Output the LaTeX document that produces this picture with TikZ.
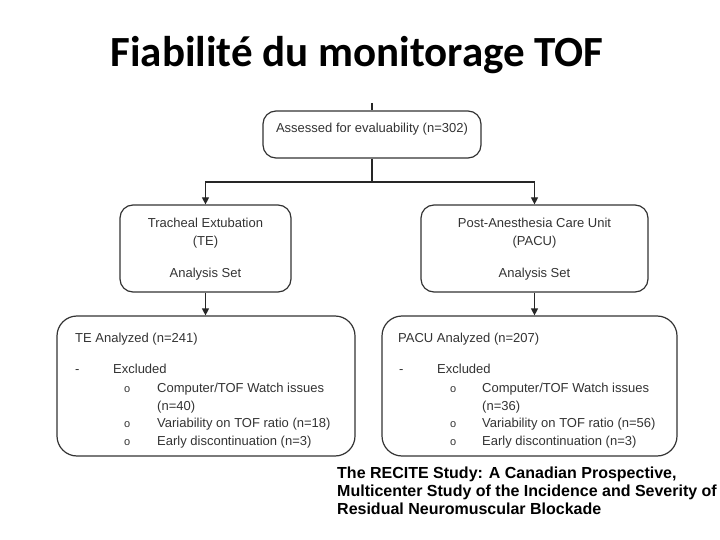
\documentclass[tikz,border=0pt]{standalone}
\usepackage{fontspec}
\setmainfont{Liberation Sans}
\newfontfamily\titlefont{Carlito}
\usetikzlibrary{arrows.meta}
\usetikzlibrary{positioning}

\begin{document}
\begin{tikzpicture}[x=1pt,y=-1pt,box/.style={draw=black!80, line width=1.2pt, rounded corners=13pt, inner sep=0pt},big box/.style={box, rounded corners=20pt},txt/.style={anchor=base west, inner sep=0pt, text=black!80, font=\fontsize{13}{15}\selectfont},mid txt/.style={txt, anchor=base},bullet/.style={txt, font=\fontsize{11}{13}\selectfont},caption/.style={anchor=base west, inner sep=0pt, font=\bfseries\fontsize{16}{18}\selectfont},link/.style={draw=black!85, line width=1.2pt},arrow/.style={link, -{Triangle[width=7pt,length=7pt]}}]
	
	\useasboundingbox (0,0) rectangle (720,540);
	
	% title
	\node[anchor=base, inner sep=0pt, font=\titlefont\bfseries\fontsize{43}{48}\selectfont] (title) at (357,67) {Fiabilité du monitorage TOF};
	
	% boxes
	\node[box, minimum width=218pt, minimum height=47pt] (assess) at (372,134.5) {};
	\node[box, minimum width=171pt, minimum height=87pt] (te) at (205.5,248.5) {};
	\node[box, minimum width=227pt, minimum height=87pt] (pacu) at (534.5,248.5) {};
	\node[big box, minimum width=298pt, minimum height=140pt] (tean) at (206,386) {};
	\node[big box, minimum width=295pt, minimum height=140pt] (pacuan) at (529.5,386) {};
	
	% texts
	\node[mid txt] (assesstxt) at (372,133) {Assessed for evaluability (n=302)};
	\node[mid txt] (te1) at (205.5,228) {Tracheal Extubation};
	\node[mid txt] (te2) at (205.5,245) {(TE)};
	\node[mid txt] (te3) at (205.5,277) {Analysis Set};
	\node[mid txt] (pacu1) at (534.5,228) {Post-Anesthesia Care Unit};
	\node[mid txt] (pacu2) at (534.5,245) {(PACU)};
	\node[mid txt] (pacu3) at (534.5,277) {Analysis Set};
	
	\node[txt] (tean0) at (75,342) {TE Analyzed (n=241)};
	\node[txt] (tedash) at (75,373.5) {-};
	\node[txt] (teexcl) at (113,373.5) {Excluded};
	\node[txt] (tean1) at (157,392) {Computer/TOF Watch issues};
	\node[txt] (tean1b) at (157,410) {(n=40)};
	\node[txt] (tean2) at (157,427.5) {Variability on TOF ratio (n=18)};
	\node[txt] (tean3) at (157,445) {Early discontinuation (n=3)};
	
	\node[txt] (pacuan0) at (398,342) {PACU Analyzed (n=207)};
	\node[txt] (pacudash) at (399,373.5) {-};
	\node[txt] (pacuexcl) at (437,373.5) {Excluded};
	\node[txt] (pacuan1) at (482,392) {Computer/TOF Watch issues};
	\node[txt] (pacuan1b) at (482,410) {(n=36)};
	\node[txt] (pacuan2) at (482,427.5) {Variability on TOF ratio (n=56)};
	\node[txt] (pacuan3) at (482,445) {Early discontinuation (n=3)};
	
	\foreach \y [count=\i] in {392,427.5,445} {
		\node[bullet] (tebul\i) at (124,\y) {o};
		\node[bullet] (pacubul\i) at (450,\y) {o};
	}
	
	% connectors
	\coordinate (top) at (372,103);
	\coordinate (split) at (372,182);
	\draw[link] (top) -- (assess.north);
	\draw[link] (assess.south) -- (split);
	\draw[arrow] (split) -| (te.north);
	\draw[arrow] (split) -| (pacu.north);
	\draw[arrow] (te.south) -- (te.south |- tean.north);
	\draw[arrow] (pacu.south) -- (pacu.south |- pacuan.north);
	
	% source
	\node[caption] (cap1) at (337,478) {The RECITE Study: A Canadian Prospective,};
	\node[caption] (cap2) at (337,496) {Multicenter Study of the Incidence and Severity of};
	\node[caption] (cap3) at (337,514) {Residual Neuromuscular Blockade};
	
\end{tikzpicture}
\end{document}
